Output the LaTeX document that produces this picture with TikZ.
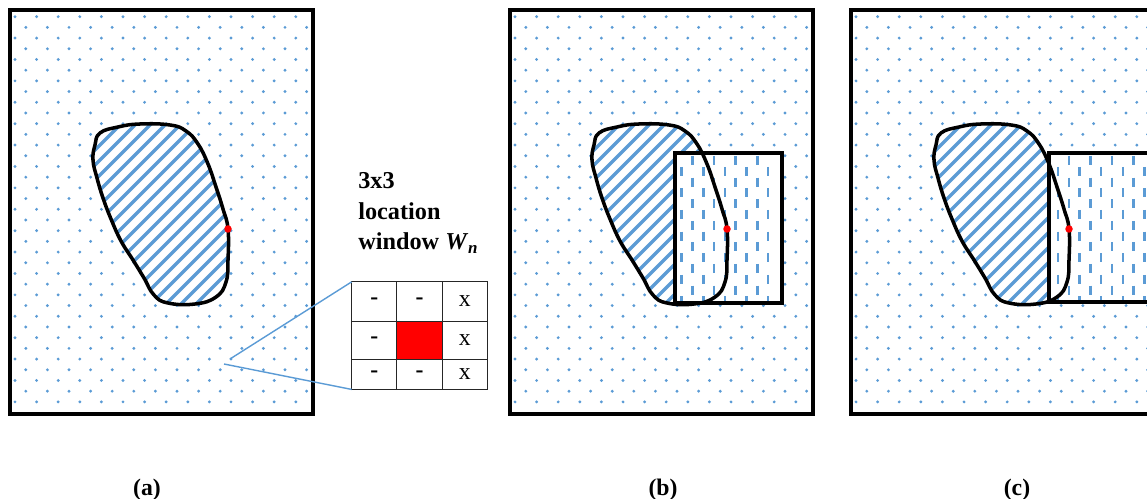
\documentclass[tikz,border=0pt]{standalone}
\usepackage{fontspec}
\setmainfont{Liberation Serif}
\usetikzlibrary{positioning}
\definecolor{dotblue}{HTML}{5B9BD5}
\definecolor{cellred}{HTML}{FF0000}
% outline of the region, in the coordinates of panel (a)
\def\blobpath{plot[smooth cycle, tension=0.75] coordinates {(100,133) (118,127) (140,124) (170,125) (186,131) (198,144) (208,164) (216,187) (223,209) (228,229) (228,260) (226,282) (216,297) (195,304) (168,303) (154,295) (144,278) (133,260) (121,241) (111,219) (103,198) (97,178) (93,160) (95,145)}}

\begin{document}
\begin{tikzpicture}[x=0.02cm, y=-0.02cm,
    panel/.style={draw=black, line width=2.3pt},
    outline/.style={draw=black, line width=2pt, line join=round},
    hatch/.style={dotblue, line width=2pt},
    tick/.style={dotblue, line width=1.4pt},
    window/.style={draw=black, line width=2.3pt},
    reddot/.style={circle, fill=red, inner sep=0pt, minimum size=0.15cm},
    cell/.style={draw=black!85, line width=0.6pt, inner sep=0pt, outer sep=0pt,
                 minimum width=0.906cm, font=\fontsize{13.5}{13.5}\selectfont},
    zoomline/.style={draw=dotblue, line width=0.8pt},
    caption/.style={font=\bfseries\fontsize{13.5}{16}\selectfont},
]
    \clip (0,0) rectangle (1147,499);

    % dotted background of the three panels
    \foreach \ox in {10,510,851}{
        \begin{scope}
            \clip (\ox,10) rectangle (\ox+303,414);
            \foreach \j [evaluate=\j as \sx using {mod(\j,2)*10.8}] in {0,...,36}
                \foreach \i in {0,...,13}
                    \fill[dotblue] (\ox+5+21.6*\i+\sx, 16.7+10.7*\j) circle[radius=1.6];
        \end{scope}
    }

    % panel (a)
    \fill[white] \blobpath;
    \begin{scope}
        \clip \blobpath;
        \foreach \t in {-110,-95,...,235} \draw[hatch] (\t,310) -- (\t+190,120);
    \end{scope}
    \draw[outline] \blobpath;
    \draw[panel] (10,10) rectangle (313,414);
    \node[reddot] (pa) at (228,229) {};

    % panel (b)
    \begin{scope}[shift={(499,0)}]
        \fill[white] \blobpath;
        \begin{scope}
            \clip \blobpath;
            \foreach \t in {-110,-95,...,235} \draw[hatch] (\t,310) -- (\t+190,120);
        \end{scope}
        \fill[white] (176,153) rectangle (283,303);
        \begin{scope}
            \clip (176,153) rectangle (283,303);
            \foreach \i [evaluate=\i as \sy using {mod(\i+1,2)*10.8}] in {0,...,8}
                \foreach \k in {0,...,6}
                    \draw[tick] (182.7+10.8*\i, 156+21.6*\k+\sy) -- ++(0,9);
        \end{scope}
        \draw[outline] \blobpath;
        \draw[window] (176,153) rectangle (283,303);
        \node[reddot] (pb) at (228,229) {};
    \end{scope}
    \draw[panel] (510,10) rectangle (813,414);

    % panel (c)
    \begin{scope}[shift={(841,0)}]
        \fill[white] \blobpath;
        \begin{scope}
            \clip \blobpath;
            \foreach \t in {-110,-95,...,235} \draw[hatch] (\t,310) -- (\t+190,120);
        \end{scope}
        \fill[white] (208,153) rectangle (330,302);
        \begin{scope}
            \clip (208,153) rectangle (330,302);
            \foreach \i [evaluate=\i as \sy using {mod(\i+1,2)*10.8}] in {0,...,10}
                \foreach \k in {0,...,6}
                    \draw[tick] (217+10.8*\i, 156+21.6*\k+\sy) -- ++(0,9);
        \end{scope}
        \draw[outline] \blobpath;
        \draw[window] (208,153) rectangle (330,302);
        \node[reddot] (pc) at (228,229) {};
    \end{scope}
    \draw[panel] (851,10) rectangle (1154,414);

    % 3x3 location window
    \node[font=\bfseries\fontsize{13.8}{17.5}\selectfont, align=left, anchor=north west,
          inner sep=0pt] (wtitle) at (358,172)
        {3x3\\location\\window \textit{W}\textsubscript{\textit{n}}};
    \node[cell, minimum height=0.786cm] (c11) at (374.3,301.5) {\bfseries -};
    \node[cell, minimum height=0.786cm, right=0pt of c11] (c12) {\bfseries -};
    \node[cell, minimum height=0.786cm, right=0pt of c12] (c13) {x};
    \node[cell, minimum height=0.76cm, below=0pt of c11] (c21) {\bfseries -};
    \node[cell, minimum height=0.76cm, fill=cellred, below=0pt of c12] (c22) {};
    \node[cell, minimum height=0.76cm, below=0pt of c13] (c23) {x};
    \node[cell, minimum height=0.606cm, below=0pt of c21] (c31) {\bfseries -};
    \node[cell, minimum height=0.606cm, below=0pt of c22] (c32) {\bfseries -};
    \node[cell, minimum height=0.606cm, below=0pt of c23] (c33) {x};

    \coordinate (za) at (230,359);
    \coordinate (zb) at (224,364);
    \draw[zoomline] (za) -- (c11.north west);
    \draw[zoomline] (zb) -- (c31.south west);

    % captions
    \node[caption] (capa) at (147,490) {(a)};
    \node[caption] (capb) at (663,490) {(b)};
    \node[caption] (capc) at (1017,490) {(c)};
\end{tikzpicture}
\end{document}
